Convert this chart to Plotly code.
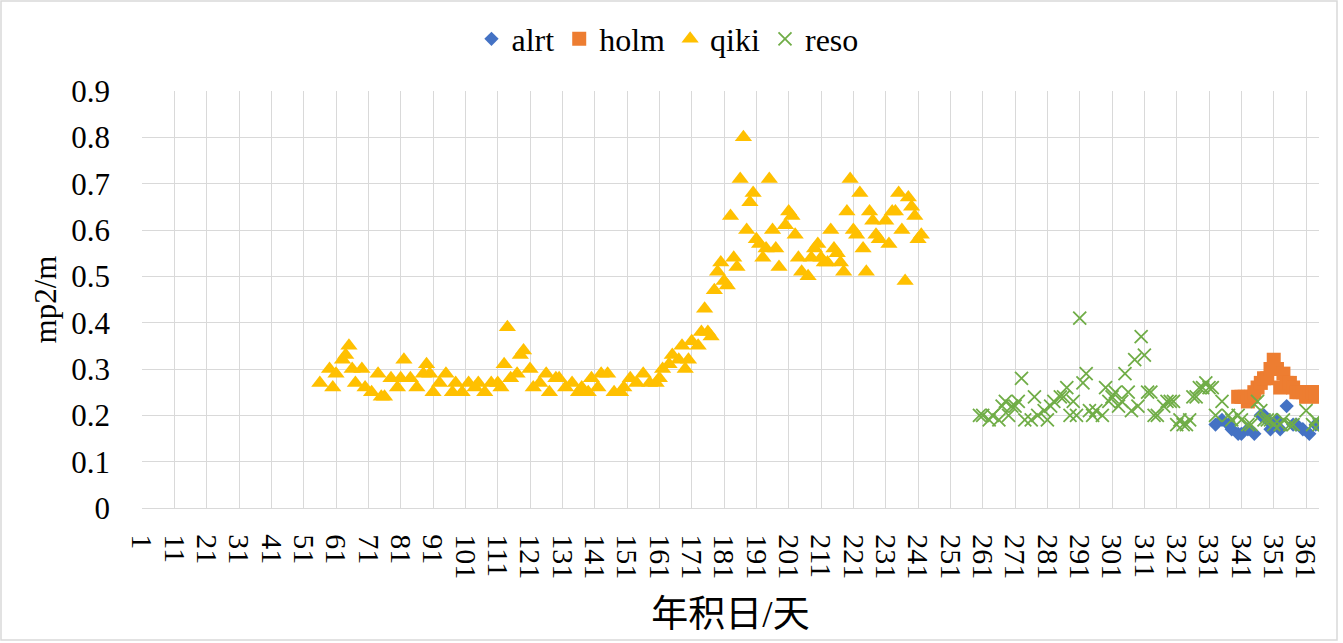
import plotly.graph_objects as go

# Day-of-year values (x = 年积日, y = mp2/m)
alrt_day = [333, 335, 337, 338, 340, 341, 343, 345, 347, 348, 349, 350, 352, 353,
            355, 357, 358, 360, 362, 364, 365]
alrt_val = [0.18, 0.19, 0.18, 0.17, 0.16, 0.16, 0.17, 0.16, 0.20, 0.20, 0.19, 0.17, 0.19, 0.17,
            0.22, 0.18, 0.18, 0.17, 0.16, 0.18, 0.18]

holm_day = [340, 341, 342, 343, 344, 345, 346, 347, 348, 349, 350, 351, 352, 353,
            354, 355, 356, 357, 358, 359, 360, 361, 362, 363, 364, 365]
holm_val = [0.24, 0.24, 0.24, 0.23, 0.24, 0.25, 0.26, 0.27, 0.28, 0.28, 0.30, 0.32, 0.30, 0.26,
            0.29, 0.27, 0.27, 0.26, 0.25, 0.25, 0.25, 0.24, 0.25, 0.25, 0.25, 0.24]

qiki_day = [56, 59, 60, 61, 63, 64, 65, 66, 67, 69, 70, 72, 74, 75, 76, 78, 80, 81, 82, 84,
            86, 88, 89, 90, 91, 93, 95, 97, 98, 100, 102, 104, 105, 107, 109, 111, 112, 113, 114, 115,
            117, 118, 119, 121, 122, 124, 126, 127, 129, 130, 132, 134, 136, 137, 139, 140, 142, 143, 145, 147,
            149, 150, 152, 154, 156, 158, 160, 161, 162, 164, 165, 167, 168, 169, 170, 171, 173, 174, 175, 176,
            177, 178, 179, 180, 181, 182, 183, 184, 185, 186, 187, 188, 189, 190, 191, 192, 193, 194, 195, 196,
            197, 198, 200, 201, 202, 203, 204, 205, 207, 208, 209, 210, 211, 212, 213, 214, 215, 216, 217, 218,
            219, 220, 221, 222, 223, 224, 225, 226, 227, 228, 229, 231, 232, 233, 234, 235, 236, 237, 238, 239,
            240, 241, 242]
qiki_val = [0.27, 0.30, 0.26, 0.29, 0.32, 0.33, 0.35, 0.30, 0.27, 0.30, 0.26, 0.25, 0.29, 0.24, 0.24, 0.28, 0.26, 0.28, 0.32, 0.28,
            0.26, 0.29, 0.31, 0.29, 0.25, 0.27, 0.29, 0.25, 0.27, 0.25, 0.27, 0.26, 0.27, 0.25, 0.27, 0.27, 0.26, 0.31, 0.39, 0.28,
            0.29, 0.33, 0.34, 0.30, 0.26, 0.27, 0.29, 0.25, 0.28, 0.28, 0.26, 0.27, 0.25, 0.26, 0.25, 0.28, 0.26, 0.29, 0.29, 0.25,
            0.25, 0.26, 0.28, 0.27, 0.29, 0.27, 0.27, 0.28, 0.30, 0.31, 0.33, 0.32, 0.35, 0.30, 0.32, 0.36, 0.35, 0.38, 0.43, 0.38,
            0.37, 0.47, 0.51, 0.53, 0.49, 0.48, 0.63, 0.54, 0.52, 0.71, 0.80, 0.60, 0.66, 0.68, 0.58, 0.57, 0.54, 0.56, 0.71, 0.60,
            0.56, 0.52, 0.61, 0.64, 0.63, 0.59, 0.54, 0.51, 0.50, 0.54, 0.56, 0.57, 0.54, 0.53, 0.53, 0.60, 0.56, 0.55, 0.53, 0.51,
            0.64, 0.71, 0.60, 0.59, 0.68, 0.56, 0.51, 0.64, 0.62, 0.59, 0.58, 0.62, 0.57, 0.64, 0.64, 0.68, 0.60, 0.49, 0.67, 0.65,
            0.63, 0.58, 0.59]

reso_day = [260, 261, 263, 264, 266, 267, 268, 269, 270, 271, 272, 273, 274, 276, 277, 278, 280, 281, 282, 283,
            285, 286, 287, 288, 289, 290, 291, 292, 293, 294, 295, 296, 298, 299, 300, 301, 302, 303, 304, 305,
            306, 307, 308, 309, 310, 311, 312, 313, 314, 315, 317, 318, 319, 320, 321, 322, 323, 324, 325, 326,
            327, 328, 329, 330, 331, 332, 333, 335, 337, 338, 340, 341, 343, 344, 346, 347, 348, 349, 350, 351,
            353, 354, 356, 357, 361, 363, 364, 365]
reso_val = [0.20, 0.20, 0.19, 0.20, 0.19, 0.22, 0.23, 0.20, 0.22, 0.22, 0.23, 0.28, 0.19, 0.19, 0.24, 0.20, 0.21, 0.19, 0.22, 0.23,
            0.24, 0.24, 0.26, 0.20, 0.23, 0.20, 0.41, 0.27, 0.29, 0.21, 0.20, 0.21, 0.20, 0.26, 0.23, 0.24, 0.25, 0.22, 0.23, 0.29,
            0.25, 0.21, 0.32, 0.22, 0.37, 0.33, 0.25, 0.25, 0.20, 0.20, 0.22, 0.23, 0.23, 0.23, 0.18, 0.19, 0.18, 0.18, 0.19, 0.24,
            0.24, 0.26, 0.26, 0.27, 0.26, 0.26, 0.20, 0.23, 0.20, 0.19, 0.20, 0.19, 0.18, 0.18, 0.23, 0.21, 0.19, 0.19, 0.19, 0.18,
            0.18, 0.19, 0.18, 0.18, 0.21, 0.18, 0.19, 0.18]

day_ticks = list(range(1, 362, 10))
y_ticks = [0, 0.1, 0.2, 0.3, 0.4, 0.5, 0.6, 0.7, 0.8, 0.9]

FONT = "Liberation Serif, Times New Roman, Noto Sans CJK SC, serif"
GRID = "#D9D9D9"

fig = go.Figure()

series = [
    ("alrt", alrt_day, alrt_val, dict(symbol="diamond", size=11, color="#4472C4")),
    ("holm", holm_day, holm_val, dict(symbol="square", size=14, color="#ED7D31")),
    ("qiki", qiki_day, qiki_val, dict(symbol="triangle-up", size=15, color="#FFC000")),
    ("reso", reso_day, reso_val, dict(symbol="x-thin", size=13, color="#70AD47",
                                      line=dict(color="#70AD47", width=1.8))),
]
for name, xs, ys, mk in series:
    fig.add_trace(go.Scatter(x=xs, y=ys, mode="markers", name=name, marker=mk))

fig.update_layout(
    width=1343, height=643,
    paper_bgcolor="white", plot_bgcolor="white",
    font=dict(family=FONT, size=31, color="#000000"),
    margin=dict(l=142, r=24, t=91, b=135, autoexpand=False),
    showlegend=True,
    legend=dict(orientation="h", xref="container", yref="container",
                x=0.497, xanchor="center", y=1 - 39 / 643, yanchor="middle",
                font=dict(size=32), itemwidth=30, bgcolor="rgba(0,0,0,0)"),
    xaxis=dict(
        range=[1, 365], tickmode="array", tickvals=day_ticks,
        ticktext=[str(d) for d in day_ticks], tickangle=90,
        showgrid=True, gridcolor=GRID, gridwidth=1.3,
        showline=True, linecolor=GRID, linewidth=1.3,
        zeroline=False, ticks="", ticklabelstandoff=19, automargin=False,
        tickfont=dict(size=30),
        title=dict(text="年积日/天", font=dict(size=37), standoff=22),
    ),
    yaxis=dict(
        range=[0, 0.9], tickmode="array", tickvals=y_ticks,
        ticktext=["0" if v == 0 else f"{v:.1f}" for v in y_ticks],
        showgrid=True, gridcolor=GRID, gridwidth=1.3,
        zeroline=False, showline=False, ticks="", ticklabelstandoff=31, automargin=False,
        tickfont=dict(size=31),
        title=dict(text="mp2/m", font=dict(size=31), standoff=5),
    ),
    shapes=[dict(type="rect", xref="paper", yref="paper",
                 x0=-141 / 1177, x1=1195 / 1177, y0=-132 / 417, y1=507 / 417,
                 line=dict(color=GRID, width=1.5), fillcolor="rgba(0,0,0,0)", layer="below")],
)

# drop the browser's default 8px page margin so the chart sits at the window origin
fig.write_html("out.html", config={"displayModeBar": False},
               post_script="document.body.style.margin='0';")
